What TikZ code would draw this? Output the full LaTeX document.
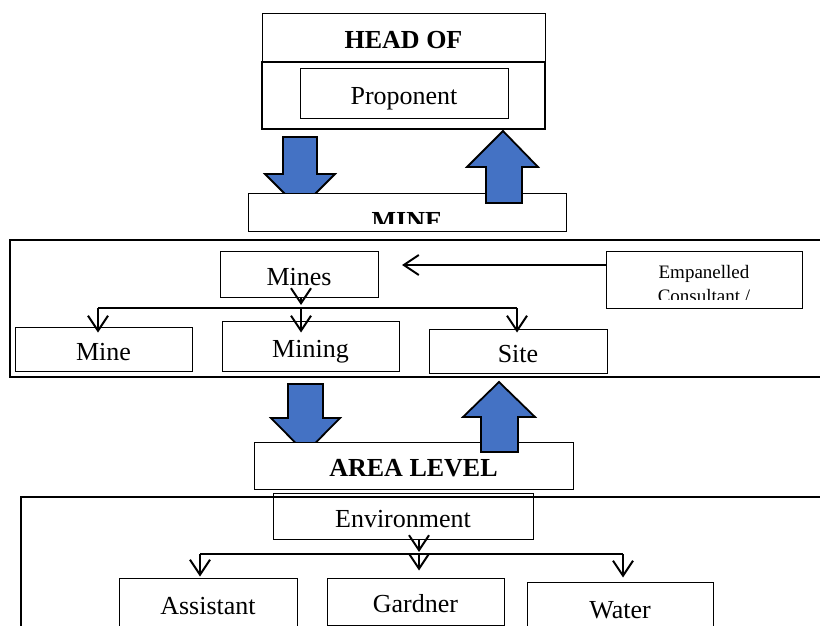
\documentclass[tikz,border=0pt]{standalone}
\usepackage{fontspec}
\setmainfont{Liberation Serif}
\usetikzlibrary{arrows.meta}
\usetikzlibrary{positioning}
\definecolor{arrowblue}{RGB}{68,114,196}
\tikzstyle{arrow}= [line width=1.2pt, ->, >={Straight Barb[length=15pt,width=20pt,line width=2pt]}]
\tikzstyle{blockarrow}= [draw=black, fill=arrowblue, line width=1.8pt, line join=miter]

\begin{document}
\begin{tikzpicture}[
    x=1pt, y=-1pt,
    box/.style={draw, rectangle, line width=1pt, inner sep=0pt,
      font=\fontsize{26}{28}\selectfont, text height=22pt, text depth=0pt},
    frame/.style={draw, rectangle, line width=2.2pt, inner sep=0pt},
    small/.style={font=\fontsize{19}{22}\selectfont, anchor=base, inner sep=0pt}
  ]
  \clip (0,0) rectangle (820,626);

  % top level
  \node[box, minimum width=283, minimum height=48] (head) at (403.5,38) {\textbf{HEAD OF}};
  \node[frame, minimum width=283, minimum height=67] (propbox) at (403.5,95.5) {};
  \node[box, minimum width=208, minimum height=49] (prop) at (404,93.5) {Proponent};

  \draw[blockarrow] (283,137) -- (317,137) -- (317,174) -- (335,174) -- (300,209) -- (265,174) -- (283,174) -- cycle;
  \node[box, fill=white, minimum width=318, minimum height=38] (minebar) at (407,212) {};
  \begin{scope}
    \clip (minebar.north west) rectangle ([yshift=8pt]minebar.south east);
    \node[anchor=base, inner sep=0pt, font=\fontsize{26}{28}\selectfont\bfseries] (minetext) at (407,229) {MINE};
  \end{scope}
  \draw[blockarrow] (486,203) -- (486,167) -- (467,167) -- (503,131) -- (538,167) -- (522,167) -- (522,203) -- cycle;

  % mine level
  \node[frame, minimum width=820, minimum height=137] (levelone) at (420,308.5) {};
  \node[box, minimum width=158, minimum height=46] (mines) at (299,274) {Mines};
  \node[box, minimum width=196, minimum height=57] (emp) at (704,279.5) {};
  \begin{scope}
    \clip (emp.north west) rectangle ([yshift=9pt]emp.south east);
    \node[small] (emptop) at (704,278) {Empanelled};
    \node[small] (empbot) at (704,302) {Consultant /};
  \end{scope}
  \node[box, minimum width=177, minimum height=44] (mine) at (103.5,349) {Mine};
  \node[box, minimum width=177, minimum height=50] (mining) at (310.5,346) {Mining};
  \node[box, minimum width=178, minimum height=44] (site) at (518,351) {Site};

  \coordinate (minesin) at (402,265);
  \draw[arrow] (emp.west |- minesin) -- (minesin);
  \coordinate (busa) at (98,308);
  \coordinate (busb) at (301,308);
  \coordinate (busc) at (517,308);
  \draw[line width=1.2pt] (busa) -- (busc);
  \draw[arrow] (mines.south -| busb) -- ([yshift=3pt]busb);
  \draw[arrow, shorten >=-12pt] (busb) -- (busb |- mining.north);
  \draw[arrow, shorten >=-6pt] (busa) -- (busa |- mine.north);
  \draw[arrow, shorten >=-4pt] (busc) -- (busc |- site.north);

  % area level
  \draw[blockarrow] (288,384) -- (323,384) -- (323,418) -- (340,418) -- (305.5,453) -- (271,418) -- (288,418) -- cycle;
  \node[box, fill=white, minimum width=319, minimum height=47] (areabar) at (413.5,465.5) {\textbf{AREA LEVEL}};
  \draw[blockarrow] (481,452) -- (481,417) -- (463,417) -- (499,382) -- (535,417) -- (518,417) -- (518,452) -- cycle;

  \node[box, minimum width=260, minimum height=46] (env) at (403,516) {Environment};
  \node[frame, minimum width=819, minimum height=163] (leveltwo) at (430.5,578.5) {};
  \node[box, minimum width=178, minimum height=50] (asst) at (208,603) {Assistant};
  \node[box, minimum width=177, minimum height=47] (gard) at (415.5,601.5) {Gardner};
  \node[box, minimum width=186, minimum height=50] (water) at (620,607) {Water};

  \coordinate (busd) at (200,554);
  \coordinate (buse) at (419,554);
  \coordinate (busf) at (623,554);
  \draw[line width=1.2pt] (busd) -- (busf);
  \draw[arrow] (env.south -| buse) -- ([yshift=2pt]buse);
  \draw[arrow, shorten >=7pt] (buse) -- (buse |- gard.north);
  \draw[arrow, shorten >=1pt] (busd) -- (busd |- asst.north);
  \draw[arrow, shorten >=4pt] (busf) -- (busf |- water.north);
\end{tikzpicture}
\end{document}
